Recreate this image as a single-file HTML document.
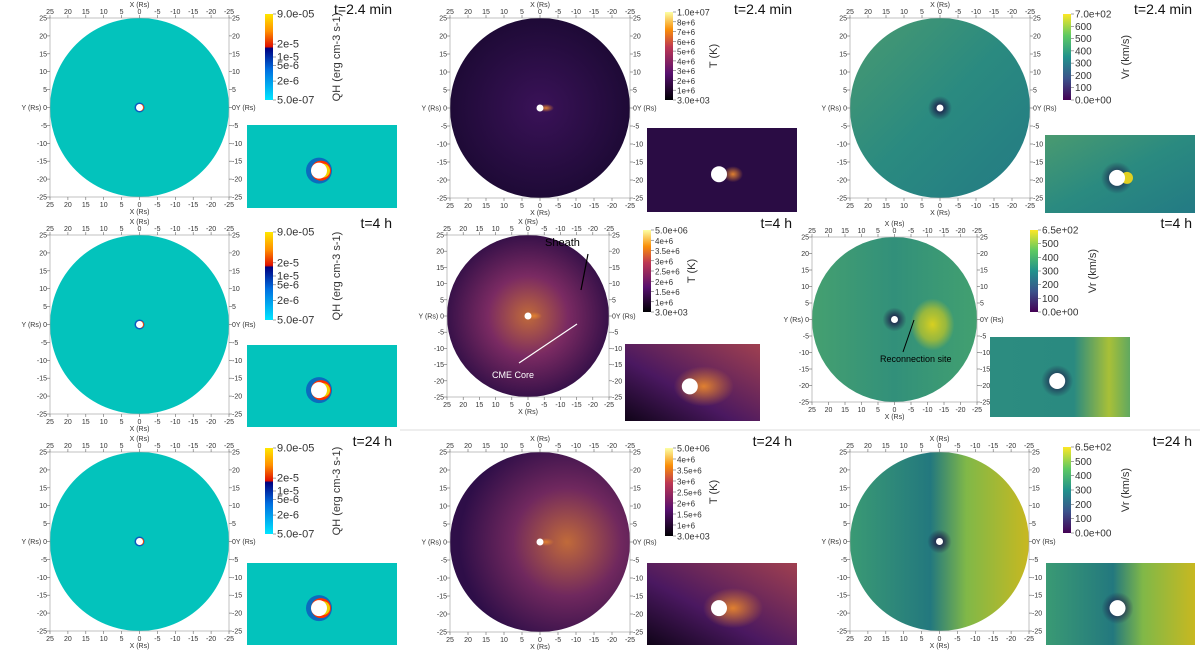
<!DOCTYPE html>
<html><head><meta charset="utf-8">
<style>
body{margin:0;background:#fff;font-family:"Liberation Sans",sans-serif;}
svg{display:block}
</style></head>
<body>
<svg id="fig" width="1200" height="650" viewBox="0 0 1200 650" xmlns="http://www.w3.org/2000/svg">
<defs>
<linearGradient id="cbQH" x1="0" y1="1" x2="0" y2="0">
<stop offset="0" stop-color="#00e5ff"/><stop offset="0.35" stop-color="#0070e0"/><stop offset="0.6" stop-color="#000080"/><stop offset="0.62" stop-color="#e01000"/><stop offset="0.8" stop-color="#ff9000"/><stop offset="1" stop-color="#ffe800"/></linearGradient>
<linearGradient id="cbT" x1="0" y1="1" x2="0" y2="0">
<stop offset="0" stop-color="#000004"/><stop offset="0.3" stop-color="#57106e"/><stop offset="0.6" stop-color="#bc3754"/><stop offset="0.8" stop-color="#f98e09"/><stop offset="1" stop-color="#fcffa4"/></linearGradient>
<linearGradient id="cbV" x1="0" y1="1" x2="0" y2="0">
<stop offset="0" stop-color="#440154"/><stop offset="0.25" stop-color="#3b528b"/><stop offset="0.5" stop-color="#21918c"/><stop offset="0.75" stop-color="#5ec962"/><stop offset="1" stop-color="#fde725"/></linearGradient>
<radialGradient id="gT1" cx="0.5" cy="0.5" r="0.5"><stop offset="0" stop-color="#3a1258"/><stop offset="1" stop-color="#1e0a36"/></radialGradient>
<radialGradient id="gT2" cx="0.5" cy="0.5" r="0.55"><stop offset="0" stop-color="#c06a3a"/><stop offset="0.45" stop-color="#7a2a62"/><stop offset="1" stop-color="#2a0c44"/></radialGradient>
<radialGradient id="gT3" cx="0.65" cy="0.5" r="0.6"><stop offset="0" stop-color="#c06a3a"/><stop offset="0.5" stop-color="#70285e"/><stop offset="1" stop-color="#2e0e48"/></radialGradient>
<linearGradient id="gTi" x1="0" y1="1" x2="1" y2="0"><stop offset="0" stop-color="#100418"/><stop offset="0.4" stop-color="#4a1860"/><stop offset="1" stop-color="#a04050"/></linearGradient>
<linearGradient id="gV1" x1="0" y1="0" x2="1" y2="1"><stop offset="0" stop-color="#4a9a70"/><stop offset="0.5" stop-color="#2a8a80"/><stop offset="1" stop-color="#237a84"/></linearGradient>
<linearGradient id="gV2" x1="0" y1="0" x2="1" y2="0"><stop offset="0" stop-color="#45a070"/><stop offset="0.5" stop-color="#32907a"/><stop offset="1" stop-color="#42a070"/></linearGradient>
<linearGradient id="gV2i" x1="0" y1="0" x2="1" y2="0"><stop offset="0" stop-color="#2c8c80"/><stop offset="0.6" stop-color="#2a8a80"/><stop offset="0.85" stop-color="#a8c038"/><stop offset="1" stop-color="#60a860"/></linearGradient>
<linearGradient id="gV3" x1="0" y1="0" x2="1" y2="0"><stop offset="0" stop-color="#3a9a74"/><stop offset="0.45" stop-color="#23787e"/><stop offset="0.65" stop-color="#80b848"/><stop offset="1" stop-color="#c8b820"/></linearGradient>
<radialGradient id="core" cx="0.5" cy="0.5" r="0.5"><stop offset="0" stop-color="#1a0a40" stop-opacity="1"/><stop offset="1" stop-color="#1a0a40" stop-opacity="0"/></radialGradient>
<radialGradient id="yb" cx="0.5" cy="0.5" r="0.5"><stop offset="0" stop-color="#d8d020"/><stop offset="0.6" stop-color="#b0c030" stop-opacity="0.8"/><stop offset="1" stop-color="#b0c030" stop-opacity="0"/></radialGradient>
<radialGradient id="og" cx="0.5" cy="0.5" r="0.5"><stop offset="0" stop-color="#e08030"/><stop offset="1" stop-color="#e08030" stop-opacity="0"/></radialGradient>
</defs>
</svg>
<script>
const tickVals=[25,20,15,10,5,0,-5,-10,-15,-20,-25];
const cbQH=["9.0e-05","2e-5","1e-5","5e-6","2e-6","5.0e-07"];
const cbQHpos=[0,0.35,0.5,0.6,0.78,1];
const cbT1=["1.0e+07","8e+6","7e+6","6e+6","5e+6","4e+6","3e+6","2e+6","1e+6","3.0e+03"];
const cbT2=["5.0e+06","4e+6","3.5e+6","3e+6","2.5e+6","2e+6","1.5e+6","1e+6","3.0e+03"];
const cbV1=["7.0e+02","600","500","400","300","200","100","0.0e+00"];
const cbV2=["6.5e+02","500","400","300","200","100","0.0e+00"];
const titles=["t=2.4 min","t=4 h","t=24 h"];
const S="http://www.w3.org/2000/svg";
const svg=document.getElementById('fig');
function el(t,a,p){const e=document.createElementNS(S,t);for(const k in a)e.setAttribute(k,a[k]);(p||svg).appendChild(e);return e;}
function txt(x,y,s,size,anchor,p,fill){const e=el('text',{x:x,y:y,'font-size':size,'text-anchor':anchor||'start',fill:fill||'#333'},p);e.textContent=s;return e;}
const panels=[
[0,0,50,18,179,'qh','#03c3bc',265,14,86,[247,125,150,83]],
[1,0,450,18,180,'t','url(#gT1)',665,12,88,[647,128,150,84]],
[2,0,850,18,180,'v','url(#gV1)',1063,14,86,[1045,135,150,78]],
[0,1,50,235,179,'qh','#03c3bc',265,232,88,[247,345,150,82]],
[1,1,447,235,162,'t','url(#gT2)',643,230,82,[625,344,135,77]],
[2,1,812,237,165,'v','url(#gV2)',1030,230,82,[990,337,140,80]],
[0,2,50,452,179,'qh','#03c3bc',265,448,86,[247,563,150,82]],
[1,2,450,452,180,'t','url(#gT3)',665,448,88,[647,563,150,82]],
[2,2,850,452,179,'v','url(#gV3)',1063,447,86,[1046,563,149,82]]
];
panels.forEach((p,i)=>{
 const [c,r,bx,by,bs,type,fill,cbx,cby,cbh,ins]=p;
 const g=el('g',{});
 
 
 const cx=bx+bs/2, cy=by+bs/2, R=bs/2;
 const circ=el('circle',{cx:cx,cy:cy,r:R,fill:fill},g);
 
 
 if(type==='qh'){
  el('circle',{cx:cx,cy:cy,r:5,fill:'#1030c0',opacity:0.7},g);
  el('circle',{cx:cx+1,cy:cy,r:3.5,fill:'#ff5000'},g);
 } else if(type==='t'){
  el('ellipse',{cx:cx+6,cy:cy,rx:8,ry:4,fill:'url(#og)'},g);
 } else {
  el('circle',{cx:cx,cy:cy,r:12,fill:'url(#core)'},g);
  if(r===1) el('ellipse',{cx:cx+38,cy:cy+5,rx:22,ry:26,fill:'url(#yb)'},g);
 }
 el('circle',{cx:cx,cy:cy,r:3.5,fill:'#fff'},g);
 el('rect',{x:bx,y:by,width:bs,height:bs,fill:'none',stroke:'#999','stroke-width':0.6},g);
 const sc=v=>bx+(25-v)/50*bs, scy=v=>by+(25-v)/50*bs;
 tickVals.forEach(v=>{
  const x=sc(v), y=scy(v);
  el('line',{x1:x,y1:by,x2:x,y2:by-3,stroke:'#666','stroke-width':0.6},g);
  el('line',{x1:x,y1:by+bs,x2:x,y2:by+bs+3,stroke:'#666','stroke-width':0.6},g);
  el('line',{x1:bx,y1:y,x2:bx-3,y2:y,stroke:'#666','stroke-width':0.6},g);
  el('line',{x1:bx+bs,y1:y,x2:bx+bs+3,y2:y,stroke:'#666','stroke-width':0.6},g);
  txt(x,by-4,String(v),7,'middle',g);
  txt(x,by+bs+10,String(v),7,'middle',g);
  if(v!==0){txt(bx-3,y+2.5,String(v),7,'end',g);txt(bx+bs+3,y+2.5,String(v),7,'start',g);}
 });
 txt(cx,by-11,'X (Rs)',7,'middle',g);
 txt(cx,by+bs+17,'X (Rs)',7,'middle',g);
 txt(bx-3,cy+2.5,'Y (Rs) 0',7,'end',g);
 txt(bx+bs+3,cy+2.5,'0Y (Rs)',7,'start',g);
 const grad=type==='qh'?'url(#cbQH)':type==='t'?'url(#cbT)':'url(#cbV)';
 const cb=el('rect',{x:cbx,y:cby,width:8,height:cbh,fill:grad},g);
 
 
 let labs, pos;
 if(type==='qh'){labs=cbQH;pos=cbQHpos;}
 else if(type==='t'){labs=r===0?cbT1:cbT2;pos=labs.map((_,k)=>k/(labs.length-1));}
 else {labs=r===0?cbV1:cbV2;pos=labs.map((_,k)=>k/(labs.length-1));}
 labs.forEach((l,k)=>{
  const y=cby+pos[k]*cbh;
  el('line',{x1:cbx+8,y1:y,x2:cbx+11,y2:y,stroke:'#666','stroke-width':0.6},g);
  const big=(k===0||k===labs.length-1);
  txt(cbx+12,y+3.5,l,type==='t'?(big?9:8):(type==='qh'?11:10),'start',g);
 });
 const unit=type==='qh'?'QH (erg cm-3 s-1)':type==='t'?'T (K)':'Vr (km/s)';
 const ux=type==='qh'?cbx+75:type==='t'?cbx+52:cbx+66;
 const ut=txt(ux,cby+cbh/2,unit,11,'middle',g);
 ut.setAttribute('transform','rotate(-90 '+ux+' '+(cby+cbh/2)+')');
 const tt=txt(c*400+392,r===0?14:(r===1?228:446),titles[r],14,'end',g,'#111');
 
 
 const [ix,iy,iw,ih]=ins;
 const ifill=type==='qh'?'#03c3bc':type==='t'?(r===0?'#2a0c44':'url(#gTi)'):(r===2?'url(#gV3)':(r===1?'url(#gV2i)':'url(#gV1)'));
 const irect=el('rect',{x:ix,y:iy,width:iw,height:ih,fill:ifill},g);
 
 
 const icx=ix+iw*0.48, icy=iy+ih*0.55;
 if(type==='qh'){el('circle',{cx:icx,cy:icy,r:13,fill:'#1030c0',opacity:0.6},g);el('circle',{cx:icx+2,cy:icy,r:10,fill:'#ff3000'},g);el('circle',{cx:icx+4,cy:icy,r:7,fill:'#f0d000'},g);}
 if(type==='t'){el('ellipse',{cx:icx+14,cy:icy,rx:r===0?10:30,ry:r===0?8:20,fill:'url(#og)'},g);}
 if(type==='v'){el('circle',{cx:icx,cy:icy,r:16,fill:'url(#core)'},g);if(r===0)el('circle',{cx:icx+10,cy:icy,r:6,fill:'#e0d020'},g);}
 el('circle',{cx:icx,cy:icy,r:8,fill:'#fff'},g);
});
const a1=txt(545,246,'Sheath',11,'start',svg,'#000');

el('line',{x1:581,y1:290,x2:588,y2:254,stroke:'#000','stroke-width':1.2});
const a2=txt(492,378,'CME Core',9,'start',svg,'#fff');

el('line',{x1:577,y1:324,x2:519,y2:363,stroke:'#fff','stroke-width':1.2});
const a3=txt(880,362,'Reconnection site',9,'start',svg,'#000');

el('line',{x1:903,y1:352,x2:914,y2:320,stroke:'#000','stroke-width':1});
el('line',{x1:400,y1:430,x2:1200,y2:430,stroke:'#ddd','stroke-width':1});
</script>
</body></html>
